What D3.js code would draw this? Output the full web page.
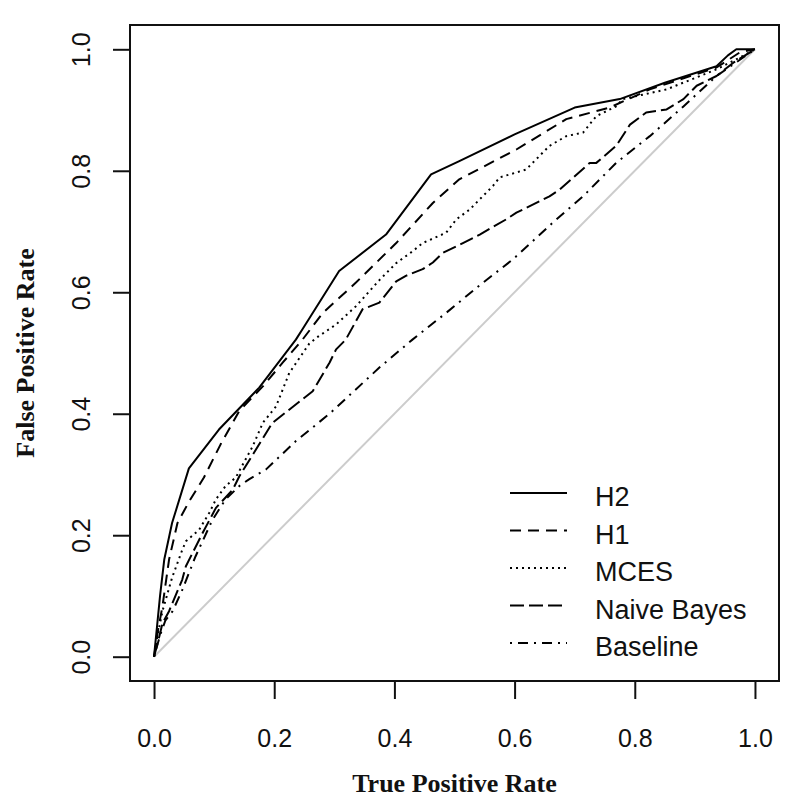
<!DOCTYPE html>
<html>
<head>
<meta charset="utf-8">
<script src="https://cdn.jsdelivr.net/npm/d3@7"></script>
<style>
  html, body { margin: 0; padding: 0; background: #fff; }
  svg { display: block; }
</style>
</head>
<body>
<svg id="chart" width="797" height="801"></svg>
<script>
// ---- data ----
const xTicks = [0.0, 0.2, 0.4, 0.6, 0.8, 1.0];
const yTicks = [0.0, 0.2, 0.4, 0.6, 0.8, 1.0];
const seriesNames = ["H2", "H1", "MCES", "Naive Bayes", "Baseline"];

const h2 = [[0,0],[0.005,0.05],[0.01,0.1],[0.017,0.16],[0.03,0.22],[0.058,0.31],[0.108,0.374],[0.175,0.443],[0.236,0.522],[0.247,0.539],[0.308,0.635],[0.386,0.695],[0.461,0.794],[0.508,0.816],[0.6,0.86],[0.7,0.904],[0.775,0.918],[0.85,0.945],[0.936,0.972],[0.955,0.99],[0.969,1.0],[1,1]];
const h1 = [[0,0],[0.006,0.04],[0.014,0.083],[0.025,0.16],[0.039,0.22],[0.058,0.255],[0.083,0.295],[0.111,0.35],[0.142,0.405],[0.181,0.445],[0.214,0.484],[0.247,0.522],[0.281,0.566],[0.336,0.616],[0.403,0.681],[0.464,0.747],[0.508,0.786],[0.603,0.835],[0.686,0.885],[0.758,0.904],[0.825,0.934],[0.936,0.97],[0.975,0.995],[1,1]];
const mces = [[0,0],[0.005,0.03],[0.014,0.075],[0.03,0.13],[0.047,0.176],[0.053,0.19],[0.075,0.209],[0.092,0.237],[0.103,0.259],[0.119,0.281],[0.136,0.295],[0.164,0.346],[0.181,0.385],[0.203,0.412],[0.225,0.467],[0.258,0.515],[0.27,0.525],[0.303,0.547],[0.336,0.577],[0.375,0.62],[0.403,0.648],[0.431,0.668],[0.447,0.681],[0.486,0.698],[0.503,0.72],[0.525,0.736],[0.564,0.775],[0.575,0.789],[0.619,0.802],[0.658,0.841],[0.686,0.857],[0.714,0.863],[0.736,0.89],[0.769,0.906],[0.78,0.918],[0.853,0.934],[0.936,0.967],[0.98,0.989],[1,1]];
const naiveBayes = [[0,0],[0.008,0.03],[0.014,0.055],[0.025,0.075],[0.047,0.127],[0.053,0.149],[0.081,0.204],[0.103,0.245],[0.131,0.275],[0.142,0.297],[0.197,0.385],[0.264,0.437],[0.292,0.484],[0.303,0.506],[0.319,0.522],[0.347,0.572],[0.375,0.583],[0.403,0.618],[0.419,0.627],[0.447,0.638],[0.464,0.649],[0.481,0.665],[0.514,0.681],[0.542,0.695],[0.586,0.72],[0.603,0.731],[0.658,0.758],[0.675,0.769],[0.725,0.813],[0.736,0.813],[0.769,0.841],[0.792,0.876],[0.819,0.896],[0.853,0.901],[0.881,0.918],[0.903,0.94],[0.936,0.956],[0.964,0.978],[1,1]];
const baseline = [[0,0],[0.01,0.035],[0.019,0.06],[0.031,0.075],[0.047,0.11],[0.069,0.165],[0.097,0.225],[0.119,0.259],[0.142,0.281],[0.158,0.292],[0.186,0.308],[0.236,0.355],[0.292,0.40],[0.375,0.476],[0.43,0.522],[0.486,0.566],[0.54,0.61],[0.597,0.654],[0.664,0.715],[0.714,0.758],[0.769,0.813],[0.825,0.857],[0.881,0.906],[0.936,0.956],[1,1]];
const diagonal = [[0,0],[1,1]];

// ---- layout ----
const svg = d3.select("#chart");
const box = { left: 130, right: 779, top: 25, bottom: 681 };
const pad = 0.04;
const x = d3.scaleLinear().domain([-pad, 1 + pad]).range([box.left, box.right]);
const y = d3.scaleLinear().domain([-pad, 1 + pad]).range([box.bottom, box.top]);

const dashes = ["none", "11,7", "2,4", "14,5", "2,6,10,6"];
const seriesData = [h2, h1, mces, naiveBayes, baseline];

const line = d3.line().x(d => x(d[0])).y(d => y(d[1]));

// diagonal reference
svg.append("path")
  .attr("d", line(diagonal))
  .attr("fill", "none")
  .attr("stroke", "#cccccc")
  .attr("stroke-width", 2);

// curves
seriesData.forEach((s, i) => {
  svg.append("path")
    .attr("d", line(s))
    .attr("fill", "none")
    .attr("stroke", "#000")
    .attr("stroke-width", 2)
    .attr("stroke-linejoin", "round")
    .attr("stroke-dasharray", dashes[i]);
});

// box
svg.append("rect")
  .attr("x", box.left).attr("y", box.top)
  .attr("width", box.right - box.left).attr("height", box.bottom - box.top)
  .attr("fill", "none").attr("stroke", "#111").attr("stroke-width", 2);

// x axis
const gx = svg.append("g").attr("transform", `translate(0,${box.bottom})`)
  .call(d3.axisBottom(x).tickValues(xTicks).tickSize(18).tickFormat(d3.format(".1f")));
gx.select(".domain").remove();
gx.selectAll(".tick line").attr("stroke", "#111").attr("stroke-width", 2);
gx.selectAll(".tick text")
  .attr("y", 66).attr("dy", 0)
  .attr("fill", "#111")
  .style("font-family", "'Liberation Sans', Arial, Helvetica, sans-serif")
  .style("font-size", "25px");

// y axis
const gy = svg.append("g").attr("transform", `translate(${box.left},0)`)
  .call(d3.axisLeft(y).tickValues(yTicks).tickSize(17).tickFormat(d3.format(".1f")));
gy.select(".domain").remove();
gy.selectAll(".tick line").attr("stroke", "#111").attr("stroke-width", 2);
gy.selectAll(".tick text")
  .attr("x", 0).attr("dy", 0)
  .attr("transform", "translate(-40,0) rotate(-90)")
  .attr("text-anchor", "middle")
  .attr("fill", "#111")
  .style("font-family", "'Liberation Sans', Arial, Helvetica, sans-serif")
  .style("font-size", "25px");

// axis titles
svg.append("text")
  .attr("x", x(0.5)).attr("y", 792)
  .attr("text-anchor", "middle")
  .attr("fill", "#111")
  .style("font-family", "'Liberation Serif', 'Times New Roman', serif")
  .style("font-weight", "bold")
  .style("font-size", "26px")
  .text("True Positive Rate");

svg.append("text")
  .attr("transform", `translate(34,${y(0.5)}) rotate(-90)`)
  .attr("text-anchor", "middle")
  .attr("fill", "#111")
  .style("font-family", "'Liberation Serif', 'Times New Roman', serif")
  .style("font-weight", "bold")
  .style("font-size", "26px")
  .text("False Positive Rate");

// legend
const legX1 = 510, legX2 = 567, legTextX = 595, legY0 = 493, legStep = 37.5;
const leg = svg.append("g");
seriesNames.forEach((name, i) => {
  const yy = legY0 + i * legStep;
  leg.append("line")
    .attr("x1", legX1).attr("x2", legX2)
    .attr("y1", yy).attr("y2", yy)
    .attr("stroke", "#000").attr("stroke-width", 2)
    .attr("stroke-dasharray", dashes[i]);
  leg.append("text")
    .attr("x", legTextX).attr("y", yy + 13)
    .attr("fill", "#111")
    .style("font-family", "'Liberation Sans', Arial, Helvetica, sans-serif")
    .style("font-size", "27px")
    .text(name);
});
</script>
</body>
</html>
